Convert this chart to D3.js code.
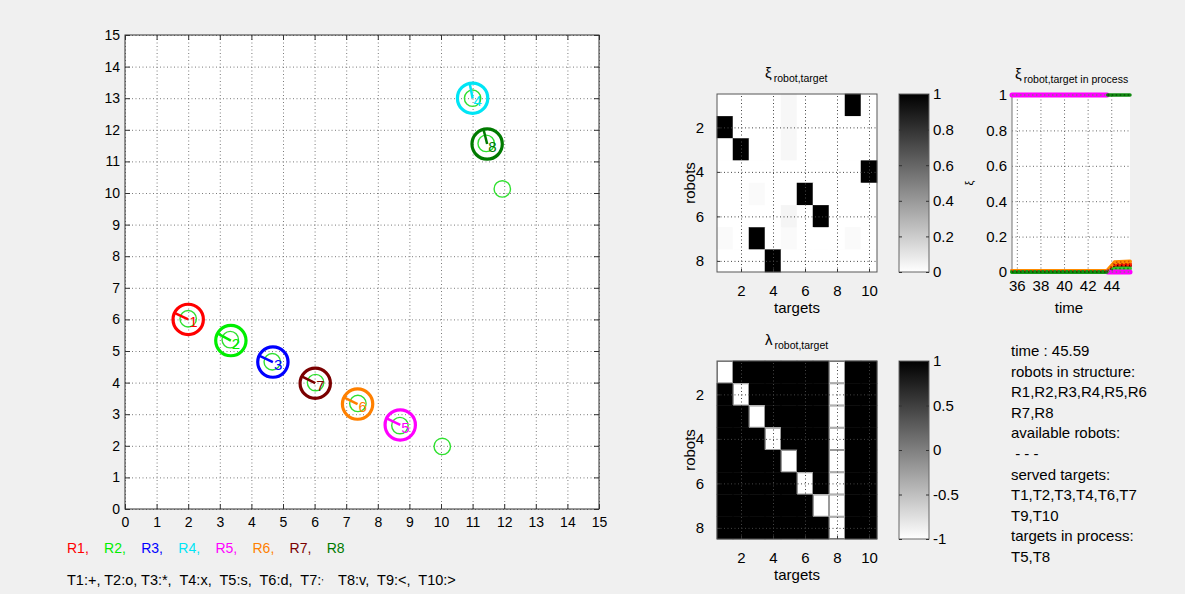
<!DOCTYPE html>
<html>
<head>
<meta charset="utf-8">
<script src="https://cdnjs.cloudflare.com/ajax/libs/d3/7.8.5/d3.min.js"></script>
<style>
body { margin: 0; background: #f0f0f0; }
text { font-family: "Liberation Sans", Arial, Helvetica, sans-serif; }
</style>
</head>
<body>
<div id="fig"></div>
<script>

// ---- data ----
var robotNames   = ["R1", "R2", "R3", "R4", "R5", "R6", "R7", "R8"];
var robotColors  = ["#ff0000", "#00ee00", "#0000ff", "#00e5f5", "#ff00ff", "#ff8000", "#7a0000", "#007a00"];
var robotX       = [2.00, 3.35, 4.68, 11.00, 8.71, 7.36, 6.02, 11.46];
var robotY       = [6.00, 5.33, 4.65, 13.00, 2.66, 3.32, 3.98, 11.55];
var robotHeading = [155, 152, 155, 101, 154, 154, 153, 104];   // degrees

// green target circles
var targetX = [2.00, 3.33, 4.66, 11.00, 8.70, 7.37, 6.03, 11.43, 10.04, 11.94];
var targetY = [6.02, 5.36, 4.66, 13.00, 2.64, 3.34, 4.00, 11.57, 1.98, 10.13];

var mainTicks = [0, 1, 2, 3, 4, 5, 6, 7, 8, 9, 10, 11, 12, 13, 14, 15];

var xiMatrix = [
    [0, 0, 0, 0, 0.03, 0, 0, 0, 1, 0],
    [1, 0, 0, 0, 0.03, 0, 0, 0, 0, 0],
    [0, 1, 0, 0, 0.03, 0, 0, 0, 0, 0],
    [0, 0, 0, 0, 0, 0, 0, 0, 0, 1],
    [0, 0, 0.02, 0, 0, 1, 0, 0, 0, 0],
    [0, 0, 0, 0, 0.04, 0, 1, 0, 0, 0],
    [0.02, 0, 1, 0, 0.02, 0, 0, 0, 0.02, 0],
    [0, 0, 0, 1, 0, 0, 0, 0, 0, 0]
];
var lambdaMatrix = [
    [-1, 1, 1, 1, 1, 1, 1, -1, 1, 1],
    [1, -1, 1, 1, 1, 1, 1, -1, 1, 1],
    [1, 1, -1, 1, 1, 1, 1, -1, 1, 1],
    [1, 1, 1, -1, 1, 1, 1, -1, 1, 1],
    [1, 1, 1, 1, -1, 1, 1, -1, 1, 1],
    [1, 1, 1, 1, 1, -1, 1, -1, 1, 1],
    [1, 1, 1, 1, 1, 1, -1, -1, 1, 1],
    [1, 1, 1, 1, 1, 1, 1, -1, 1, 1]
];
var heatXTicks = [2, 4, 6, 8, 10];
var heatYTicks = [2, 4, 6, 8];
var xiBarTicks = [0, 0.2, 0.4, 0.6, 0.8, 1];
var lambdaBarTicks = [-1, -0.5, 0, 0.5, 1];

// xi of the targets in process over the last 10 s (null = gap)
var procMagenta   = [[35.59, 1], [43.65, 1], null, [43.70, 0], [45.59, 0]];
var procDarkGreen = [[35.59, 0], [43.65, 0], null, [43.70, 1], [45.59, 1]];
var procGreen     = [[35.59, 0], [43.65, 0], [44.30, 0.02], [45.59, 0.02]];
var procOrange    = [[35.59, 0.005], [43.65, 0.005], [44.30, 0.055], [45.59, 0.06]];
var procRed       = [[35.59, 0.005], [43.65, 0.005], [44.30, 0.045], [45.59, 0.045]];
var procDarkRed   = [[43.65, 0], [44.30, 0.035], [45.59, 0.035]];
var procTimeTicks = [36, 38, 40, 42, 44];
var procYTicks    = [0, 0.2, 0.4, 0.6, 0.8, 1];

var infoLines = [
    "time : 45.59",
    "robots in structure:",
    "R1,R2,R3,R4,R5,R6",
    "R7,R8",
    "available robots:",
    " - - -",
    "served targets:",
    "T1,T2,T3,T4,T6,T7",
    "T9,T10",
    "targets in process:",
    "T5,T8"
];

var svg = d3.select("#fig")
    .append("svg")
    .attr("width", 1185)
    .attr("height", 594);

svg.append("rect").attr("width", 1185).attr("height", 594).attr("fill", "#f0f0f0");

function styleGrid(g, color) {
    g.select(".domain").remove();
    g.selectAll("line")
        .attr("stroke", color)
        .attr("stroke-width", 1)
        .attr("stroke-dasharray", "1,2.5");
}

function styleAxis(g, size) {
    g.select(".domain").remove();
    g.selectAll("line").attr("stroke", "#333");
    g.selectAll("text").style("font-size", size + "px").attr("fill", "#000");
}

// ---------------- main workspace plot ----------------
var main = { left: 125, right: 599, top: 35, bottom: 509 };
var x = d3.scaleLinear().domain([0, 15]).range([main.left, main.right]);
var y = d3.scaleLinear().domain([0, 15]).range([main.bottom, main.top]);

svg.append("rect")
    .attr("x", main.left).attr("y", main.top)
    .attr("width", main.right - main.left).attr("height", main.bottom - main.top)
    .attr("fill", "#fff");

svg.append("g")
    .attr("transform", "translate(0," + main.bottom + ")")
    .call(d3.axisBottom(x).tickValues(mainTicks).tickSize(-(main.bottom - main.top)).tickFormat(""))
    .call(styleGrid, "#7a7a7a");
svg.append("g")
    .attr("transform", "translate(" + main.left + ",0)")
    .call(d3.axisLeft(y).tickValues(mainTicks).tickSize(-(main.right - main.left)).tickFormat(""))
    .call(styleGrid, "#7a7a7a");

svg.append("g")
    .attr("transform", "translate(0," + main.bottom + ")")
    .call(d3.axisBottom(x).tickValues(mainTicks).tickSize(-5).tickPadding(8))
    .call(styleAxis, 14);
svg.append("g")
    .attr("transform", "translate(" + main.left + ",0)")
    .call(d3.axisLeft(y).tickValues(mainTicks).tickSize(-5).tickPadding(5))
    .call(styleAxis, 14);
svg.append("g")
    .attr("transform", "translate(0," + main.top + ")")
    .call(d3.axisTop(x).tickValues(mainTicks).tickSize(-5).tickFormat(""))
    .call(styleAxis, 14);
svg.append("g")
    .attr("transform", "translate(" + main.right + ",0)")
    .call(d3.axisRight(y).tickValues(mainTicks).tickSize(-5).tickFormat(""))
    .call(styleAxis, 14);

svg.append("rect")
    .attr("x", main.left).attr("y", main.top)
    .attr("width", main.right - main.left).attr("height", main.bottom - main.top)
    .attr("fill", "none").attr("stroke", "#333").attr("stroke-width", 1);

var robotR = 0.48, targetR = 0.26;

var targets = targetX.map(function (d, i) { return { x: d, y: targetY[i] }; });
svg.selectAll(".target")
    .data(targets)
    .enter()
    .append("circle")
    .attr("class", "target")
    .attr("cx", function (d) { return x(d.x); })
    .attr("cy", function (d) { return y(d.y); })
    .attr("r", x(targetR) - x(0))
    .attr("fill", "none")
    .attr("stroke", "#2fe02f")
    .attr("stroke-width", 1.4);

var robots = robotNames.map(function (name, i) {
    return { name: name, num: name.slice(1), color: robotColors[i], x: robotX[i], y: robotY[i], a: robotHeading[i] * Math.PI / 180 };
});

var robotG = svg.selectAll(".robot")
    .data(robots)
    .enter()
    .append("g")
    .attr("class", "robot");
robotG.append("circle")
    .attr("cx", function (d) { return x(d.x); })
    .attr("cy", function (d) { return y(d.y); })
    .attr("r", x(robotR) - x(0))
    .attr("fill", "none")
    .attr("stroke", function (d) { return d.color; })
    .attr("stroke-width", 3.2);
robotG.append("line")
    .attr("x1", function (d) { return x(d.x); })
    .attr("y1", function (d) { return y(d.y); })
    .attr("x2", function (d) { return x(d.x + robotR * Math.cos(d.a)); })
    .attr("y2", function (d) { return y(d.y + robotR * Math.sin(d.a)); })
    .attr("stroke", function (d) { return d.color; })
    .attr("stroke-width", 2.5);
robotG.append("text")
    .attr("x", function (d) { return x(d.x) + 1; })
    .attr("y", function (d) { return y(d.y) + 8; })
    .style("font-size", "15px")
    .style("fill", function (d) { return d.color; })
    .text(function (d) { return d.num; });

// robot colour legend
svg.selectAll(".rlegend")
    .data(robots)
    .enter()
    .append("text")
    .attr("class", "rlegend")
    .attr("x", function (d, i) { return 67 + i * 37.1; })
    .attr("y", 553)
    .style("font-size", "14px")
    .style("fill", function (d) { return d.color; })
    .text(function (d, i) { return d.name + (i < robots.length - 1 ? "," : ""); });

// target marker legend (the ^ turned the following ", " into a superscript)
var tLegend = svg.append("text")
    .attr("x", 67).attr("y", 585)
    .attr("xml:space", "preserve")
    .style("font-size", "14.5px");
tLegend.append("tspan").text("T1:+, T2:o, T3:*,  T4:x,  T5:s,  T6:d,  T7:");
tLegend.append("tspan").attr("baseline-shift", "super").style("font-size", "9px").text(", ");
tLegend.append("tspan").text("   T8:v,  T9:<,  T10:>");

// ---------------- heatmaps ----------------
function drawHeat(matrix, top, domain, barTicks, symbol, gradId) {
    var box = { left: 717, right: 877, top: top, bottom: top + 178 };
    var hx = d3.scaleLinear().domain([0.5, 10.5]).range([box.left, box.right]);
    var hy = d3.scaleLinear().domain([0.5, 8.5]).range([box.top, box.bottom]);
    var color = d3.scaleLinear().domain(domain).range(["#ffffff", "#000000"]);

    var cells = [];
    matrix.forEach(function (row, i) {
        row.forEach(function (v, j) { cells.push({ r: i + 1, c: j + 1, v: v }); });
    });

    svg.append("g").selectAll("rect")
        .data(cells)
        .enter()
        .append("rect")
        .attr("x", function (d) { return hx(d.c - 0.5); })
        .attr("y", function (d) { return hy(d.r - 0.5); })
        .attr("width", hx(1) - hx(0))
        .attr("height", hy(1) - hy(0))
        .attr("fill", function (d) { return color(d.v); })
        .attr("stroke", function (d) { return color(d.v); })
        .attr("stroke-width", 0.5);

    // grey fringe round the white cells of a mostly black image
    svg.append("g").selectAll("rect")
        .data(cells.filter(function (d) { return d.v === domain[0] && domain[0] < 0; }))
        .enter()
        .append("rect")
        .attr("x", function (d) { return hx(d.c - 0.5) + 0.5; })
        .attr("y", function (d) { return hy(d.r - 0.5) + 0.5; })
        .attr("width", hx(1) - hx(0) - 1)
        .attr("height", hy(1) - hy(0) - 1)
        .attr("fill", "none")
        .attr("stroke", "#9a9a9a")
        .attr("stroke-width", 1);

    svg.append("g")
        .attr("transform", "translate(0," + box.bottom + ")")
        .call(d3.axisBottom(hx).tickValues(heatXTicks).tickSize(-(box.bottom - box.top)).tickFormat(""))
        .call(styleGrid, "#444");
    svg.append("g")
        .attr("transform", "translate(" + box.left + ",0)")
        .call(d3.axisLeft(hy).tickValues(heatYTicks).tickSize(-(box.right - box.left)).tickFormat(""))
        .call(styleGrid, "#444");

    svg.append("g")
        .attr("transform", "translate(0," + box.bottom + ")")
        .call(d3.axisBottom(hx).tickValues(heatXTicks).tickSize(-3).tickPadding(13))
        .call(styleAxis, 15);
    svg.append("g")
        .attr("transform", "translate(" + box.left + ",0)")
        .call(d3.axisLeft(hy).tickValues(heatYTicks).tickSize(-3).tickPadding(13))
        .call(styleAxis, 15);

    svg.append("rect")
        .attr("x", box.left).attr("y", box.top)
        .attr("width", box.right - box.left).attr("height", box.bottom - box.top)
        .attr("fill", "none").attr("stroke", "#555");

    // title
    var title = svg.append("text")
        .attr("x", 765).attr("y", top - 16)
        .style("font-size", "15px");
    title.append("tspan").text(symbol);
    title.append("tspan").attr("dy", 4).attr("dx", 2).style("font-size", "10.5px").text("robot,target");

    svg.append("text")
        .attr("x", 797).attr("y", box.bottom + 41)
        .attr("text-anchor", "middle")
        .style("font-size", "15px")
        .text("targets");
    svg.append("text")
        .attr("transform", "translate(695," + (box.top + box.bottom) / 2 + ") rotate(-90)")
        .attr("text-anchor", "middle")
        .style("font-size", "15px")
        .text("robots");

    // colour bar
    var grad = svg.append("defs").append("linearGradient")
        .attr("id", gradId)
        .attr("x1", 0).attr("y1", 1).attr("x2", 0).attr("y2", 0);
    grad.append("stop").attr("offset", "0%").attr("stop-color", color(domain[0]));
    grad.append("stop").attr("offset", "100%").attr("stop-color", color(domain[1]));

    var cb = { left: 899, right: 929 };
    var cy = d3.scaleLinear().domain(domain).range([box.bottom, box.top]);
    svg.append("rect")
        .attr("x", cb.left).attr("y", box.top)
        .attr("width", cb.right - cb.left).attr("height", box.bottom - box.top)
        .attr("fill", "url(#" + gradId + ")")
        .attr("stroke", "#666");
    svg.append("g")
        .attr("transform", "translate(" + cb.right + ",0)")
        .call(d3.axisRight(cy).tickValues(barTicks).tickSize(-3).tickPadding(4)
            .tickFormat(function (d) { return String(d); }))
        .call(styleAxis, 15);
    svg.append("g")
        .attr("transform", "translate(" + cb.left + ",0)")
        .call(d3.axisLeft(cy).tickValues(barTicks).tickSize(-3).tickFormat(""))
        .call(styleAxis, 15);
}

drawHeat(xiMatrix, 94, [0, 1], xiBarTicks, "ξ", "gradXi");
drawHeat(lambdaMatrix, 361, [-1, 1], lambdaBarTicks, "λ", "gradLambda");

// ---------------- xi of targets in process ----------------
var pbox = { left: 1012, right: 1130, top: 95, bottom: 272 };
var px = d3.scaleLinear().domain([35.59, 45.59]).range([pbox.left, pbox.right]);
var py = d3.scaleLinear().domain([0, 1]).range([pbox.bottom, pbox.top]);

svg.append("rect")
    .attr("x", pbox.left).attr("y", pbox.top - 2)
    .attr("width", pbox.right - pbox.left).attr("height", pbox.bottom - pbox.top + 4)
    .attr("fill", "#fff");

svg.append("g")
    .attr("transform", "translate(0," + pbox.bottom + ")")
    .call(d3.axisBottom(px).tickValues(procTimeTicks).tickSize(-(pbox.bottom - pbox.top)).tickFormat(""))
    .call(styleGrid, "#666");
svg.append("g")
    .attr("transform", "translate(" + pbox.left + ",0)")
    .call(d3.axisLeft(py).tickValues(procYTicks).tickSize(-(pbox.right - pbox.left)).tickFormat(""))
    .call(styleGrid, "#666");

svg.append("g")
    .attr("transform", "translate(0," + pbox.bottom + ")")
    .call(d3.axisBottom(px).tickValues(procTimeTicks).tickSize(0).tickPadding(8))
    .call(styleAxis, 15);
svg.append("g")
    .attr("transform", "translate(" + pbox.left + ",0)")
    .call(d3.axisLeft(py).tickValues(procYTicks).tickSize(0).tickPadding(5)
        .tickFormat(function (d) { return String(d); }))
    .call(styleAxis, 15);

svg.append("line")
    .attr("x1", pbox.left).attr("x2", pbox.left)
    .attr("y1", pbox.top - 2).attr("y2", pbox.bottom + 2)
    .attr("stroke", "#888").attr("stroke-width", 1.2);

var procLine = d3.line()
    .defined(function (d) { return d !== null; })
    .x(function (d) { return px(d[0]); })
    .y(function (d) { return py(d[1]); });

var procSeries = [
    { pts: procDarkRed,   color: "#a00000", mark: "#500000", w: 4 },
    { pts: procRed,       color: "#ff2000", mark: "#b00000", w: 4 },
    { pts: procOrange,    color: "#ff8c00", mark: "#d05000", w: 4 },
    { pts: procGreen,     color: "#2fd02f", mark: "#0a8a0a", w: 4 },
    { pts: procMagenta,   color: "#ff00ff", mark: "#8a6a8a", w: 5 },
    { pts: procDarkGreen, color: "#118a11", mark: "#055005", w: 3.5 }
];

svg.selectAll(".proc")
    .data(procSeries)
    .enter()
    .append("path")
    .attr("class", "proc")
    .attr("d", function (d) { return procLine(d.pts); })
    .attr("fill", "none")
    .attr("stroke", function (d) { return d.color; })
    .attr("stroke-width", function (d) { return d.w; })
    .attr("stroke-linecap", "round");
svg.selectAll(".procmark")
    .data(procSeries)
    .enter()
    .append("path")
    .attr("class", "procmark")
    .attr("d", function (d) { return procLine(d.pts); })
    .attr("fill", "none")
    .attr("stroke", function (d) { return d.mark; })
    .attr("stroke-width", 1.6)
    .attr("stroke-dasharray", "1.5,2.5");

var ptitle = svg.append("text")
    .attr("x", 1015).attr("y", 79)
    .style("font-size", "15px");
ptitle.append("tspan").text("ξ");
ptitle.append("tspan").attr("dy", 4).attr("dx", 2).style("font-size", "10.5px").text("robot,target in process");

svg.append("text")
    .attr("x", 1069).attr("y", 313)
    .attr("text-anchor", "middle")
    .style("font-size", "15px")
    .text("time");
svg.append("text")
    .attr("transform", "translate(973,183) rotate(-90)")
    .attr("text-anchor", "middle")
    .style("font-size", "11px")
    .text("ξ");

// ---------------- status text ----------------
svg.append("g").selectAll("text")
    .data(infoLines)
    .enter()
    .append("text")
    .attr("x", 1011)
    .attr("y", function (d, i) { return 356 + i * 20.6; })
    .attr("xml:space", "preserve")
    .style("font-size", "15px")
    .text(function (d) { return d; });

</script>
</body>
</html>
